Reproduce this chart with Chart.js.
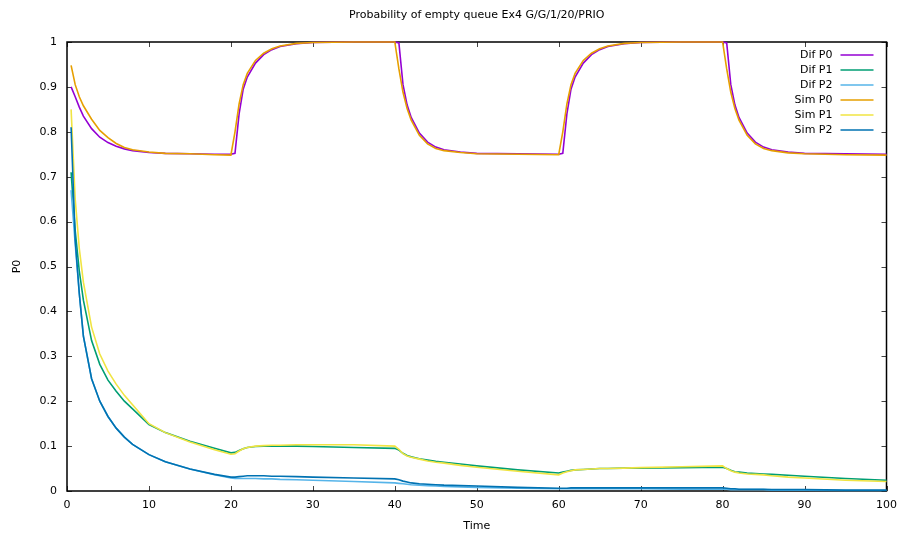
<!DOCTYPE html>
<html>
<head>
<meta charset="utf-8">
<script src="https://cdn.jsdelivr.net/npm/chart.js@4"></script>
<style>
  body { margin: 0; background: #fff; }
  canvas { display: block; }
</style>
</head>
<body>
<canvas id="chart" width="905" height="533"></canvas>
<script>
// time samples shared by all series
const time = [0.5, 1, 1.5, 2, 3, 4, 5, 6, 7, 8,
  10, 12, 15, 18, 20,
  20.5, 21, 21.5, 22, 23, 24, 25, 26, 28, 30,
  35, 40,
  40.5, 41, 41.5, 42, 43, 44, 45, 46, 48, 50,
  55, 60,
  60.5, 61, 61.5, 62, 63, 64, 65, 66, 68, 70,
  75, 80,
  80.5, 81, 81.5, 82, 83, 84, 85, 86, 88, 90,
  95, 100];

const difP0 = [0.900, 0.878, 0.855, 0.835, 0.807, 0.788, 0.776, 0.768, 0.762, 0.758,
  0.754, 0.752, 0.751, 0.750, 0.750,
  0.752, 0.840, 0.895, 0.922, 0.953, 0.972, 0.983, 0.990, 0.996, 0.999,
  1.000, 1.000,
  0.998, 0.905, 0.860, 0.832, 0.797, 0.777, 0.766, 0.760, 0.755, 0.752,
  0.751, 0.750,
  0.752, 0.840, 0.895, 0.922, 0.953, 0.972, 0.983, 0.990, 0.996, 0.999,
  1.000, 1.000,
  0.998, 0.905, 0.860, 0.832, 0.797, 0.777, 0.766, 0.760, 0.755, 0.752,
  0.751, 0.750];

const simP0 = [0.948, 0.905, 0.878, 0.858, 0.828, 0.803, 0.787, 0.774, 0.765, 0.760,
  0.755, 0.752, 0.751, 0.749, 0.748,
  0.800, 0.862, 0.905, 0.930, 0.959, 0.975, 0.985, 0.991, 0.997, 0.999,
  1.000, 1.000,
  0.940, 0.888, 0.852, 0.826, 0.792, 0.773, 0.763, 0.758, 0.754, 0.751,
  0.750, 0.749,
  0.800, 0.862, 0.905, 0.930, 0.959, 0.975, 0.985, 0.991, 0.997, 0.999,
  1.000, 1.000,
  0.940, 0.888, 0.852, 0.826, 0.792, 0.773, 0.763, 0.758, 0.753, 0.751,
  0.749, 0.748];

const difP1 = [0.710, 0.580, 0.490, 0.425, 0.335, 0.282, 0.247, 0.222, 0.200, 0.183,
  0.148, 0.130, 0.111, 0.095, 0.085,
  0.086, 0.090, 0.094, 0.097, 0.099, 0.100, 0.100, 0.100, 0.100, 0.099,
  0.097, 0.095,
  0.091, 0.084, 0.079, 0.076, 0.072, 0.069, 0.066, 0.064, 0.060, 0.056,
  0.047, 0.040,
  0.042, 0.044, 0.046, 0.047, 0.048, 0.049, 0.050, 0.050, 0.051, 0.051,
  0.052, 0.053,
  0.050, 0.046, 0.043, 0.042, 0.040, 0.039, 0.038, 0.037, 0.035, 0.033,
  0.028, 0.024];

const simP1 = [0.850, 0.650, 0.540, 0.465, 0.365, 0.305, 0.267, 0.238, 0.213, 0.192,
  0.150, 0.130, 0.109, 0.092, 0.082,
  0.083, 0.089, 0.094, 0.097, 0.100, 0.101, 0.102, 0.102, 0.103, 0.103,
  0.103, 0.100,
  0.093, 0.083, 0.078, 0.075, 0.071, 0.067, 0.064, 0.062, 0.057, 0.053,
  0.044, 0.036,
  0.040, 0.043, 0.045, 0.047, 0.048, 0.049, 0.050, 0.050, 0.051, 0.052,
  0.054, 0.056,
  0.050, 0.045, 0.042, 0.040, 0.038, 0.037, 0.036, 0.034, 0.031, 0.029,
  0.024, 0.021];

const difP2 = [0.670, 0.550, 0.440, 0.345, 0.250, 0.200, 0.166, 0.140, 0.120, 0.104,
  0.081, 0.065, 0.049, 0.036, 0.029,
  0.028, 0.028, 0.028, 0.028, 0.028, 0.027, 0.027, 0.026, 0.025, 0.024,
  0.021, 0.018,
  0.017, 0.016, 0.015, 0.014, 0.013, 0.012, 0.011, 0.010, 0.009, 0.008,
  0.006, 0.005,
  0.005, 0.005, 0.005, 0.005, 0.005, 0.005, 0.005, 0.005, 0.005, 0.005,
  0.004, 0.004,
  0.004, 0.003, 0.003, 0.003, 0.003, 0.003, 0.003, 0.002, 0.002, 0.002,
  0.001, 0.001];

const simP2 = [0.810, 0.560, 0.440, 0.345, 0.250, 0.200, 0.166, 0.140, 0.120, 0.104,
  0.081, 0.065, 0.049, 0.037, 0.031,
  0.031, 0.032, 0.033, 0.034, 0.034, 0.034, 0.033, 0.033, 0.032, 0.031,
  0.029, 0.027,
  0.025, 0.022, 0.020, 0.018, 0.016, 0.015, 0.014, 0.013, 0.012, 0.011,
  0.008, 0.006,
  0.006, 0.006, 0.007, 0.007, 0.007, 0.007, 0.007, 0.007, 0.007, 0.007,
  0.007, 0.007,
  0.006, 0.005, 0.005, 0.004, 0.004, 0.004, 0.004, 0.003, 0.003, 0.003,
  0.002, 0.002];

const seriesNames = ['Dif P0', 'Dif P1', 'Dif P2', 'Sim P0', 'Sim P1', 'Sim P2'];
const seriesValues = [difP0, difP1, difP2, simP0, simP1, simP2];
const seriesColors = ['#9400d3', '#009e73', '#56b4e9', '#e69f00', '#f0e442', '#0072b2'];

const xTicks = [0, 10, 20, 30, 40, 50, 60, 70, 80, 90, 100];
const yTicks = [0, 0.1, 0.2, 0.3, 0.4, 0.5, 0.6, 0.7, 0.8, 0.9, 1];

const chartTitle = 'Probability of empty queue Ex4 G/G/1/20/PRIO';
const FONT = '"DejaVu Sans", sans-serif';

// gnuplot-like frame with inward ticks on all four sides
const framePlugin = {
  id: 'frame',
  beforeDatasetsDraw(chart) {
    const { ctx, chartArea: a, scales } = chart;
    ctx.save();
    ctx.strokeStyle = '#444';
    ctx.lineWidth = 1;
    ctx.beginPath();
    xTicks.forEach(v => {
      const x = Math.round(scales.x.getPixelForValue(v)) + 0.5;
      ctx.moveTo(x, a.bottom); ctx.lineTo(x, a.bottom - 5);
      ctx.moveTo(x, a.top); ctx.lineTo(x, a.top + 5);
    });
    yTicks.forEach(v => {
      const y = Math.round(scales.y.getPixelForValue(v)) + 0.5;
      ctx.moveTo(a.left, y); ctx.lineTo(a.left + 5, y);
      ctx.moveTo(a.right, y); ctx.lineTo(a.right - 5, y);
    });
    ctx.stroke();
    ctx.strokeStyle = '#000';
    ctx.lineWidth = 1.5;
    ctx.strokeRect(a.left, a.top, a.right - a.left, a.bottom - a.top);
    ctx.restore();
  }
};

// title centred over the plot, key in the top right corner (text, then sample line)
const keyPlugin = {
  id: 'key',
  afterDraw(chart) {
    const { ctx, chartArea: a } = chart;
    ctx.save();
    ctx.font = '11px ' + FONT;
    ctx.fillStyle = '#000';
    ctx.textAlign = 'center';
    ctx.textBaseline = 'middle';
    ctx.fillText(chartTitle, (a.left + a.right) / 2, 15);
    ctx.textAlign = 'right';
    chart.data.datasets.forEach((ds, i) => {
      const y = a.top + 13 + i * 15;
      const tx = a.right - 54;
      ctx.fillStyle = '#000';
      ctx.fillText(ds.label, tx, y);
      ctx.strokeStyle = ds.borderColor;
      ctx.lineWidth = 1.5;
      ctx.beginPath();
      ctx.moveTo(tx + 8, y);
      ctx.lineTo(tx + 41, y);
      ctx.stroke();
    });
    ctx.restore();
  }
};

new Chart(document.getElementById('chart'), {
  type: 'line',
  data: {
    datasets: seriesNames.map((name, i) => ({
      label: name,
      data: time.map((t, k) => ({ x: t, y: seriesValues[i][k] })),
      borderColor: seriesColors[i],
      backgroundColor: seriesColors[i],
      borderWidth: 1.6,
      pointRadius: 0,
      tension: 0,
      fill: false,
      clip: 3,
      order: 6 - i
    }))
  },
  options: {
    responsive: false,
    animation: false,
    layout: { padding: { left: 0, right: 13, top: 42, bottom: 0 } },
    plugins: {
      legend: { display: false },
      tooltip: { enabled: false },
      title: { display: false }
    },
    scales: {
      x: {
        type: 'linear',
        min: 0, max: 100,
        afterBuildTicks: s => { s.ticks = xTicks.map(v => ({ value: v })); },
        afterFit: s => { s.height = 42; },
        grid: { display: false, drawTicks: false },
        border: { display: false },
        ticks: { color: '#000', padding: 8, maxRotation: 0, font: { family: FONT, size: 11 }, callback: v => String(v) },
        title: { display: true, text: 'Time', color: '#000', padding: { top: 0, bottom: 0 }, font: { family: FONT, size: 11 } }
      },
      y: {
        min: 0, max: 1,
        afterBuildTicks: s => { s.ticks = yTicks.map(v => ({ value: v })); },
        afterFit: s => { s.width = 67; },
        grid: { display: false, drawTicks: false },
        border: { display: false },
        ticks: { color: '#000', padding: 10, font: { family: FONT, size: 11 }, callback: v => String(v) },
        title: { display: true, text: 'P0', color: '#000', padding: { top: 11, bottom: 0 }, font: { family: FONT, size: 11 } }
      }
    }
  },
  plugins: [framePlugin, keyPlugin]
});
</script>
</body>
</html>
